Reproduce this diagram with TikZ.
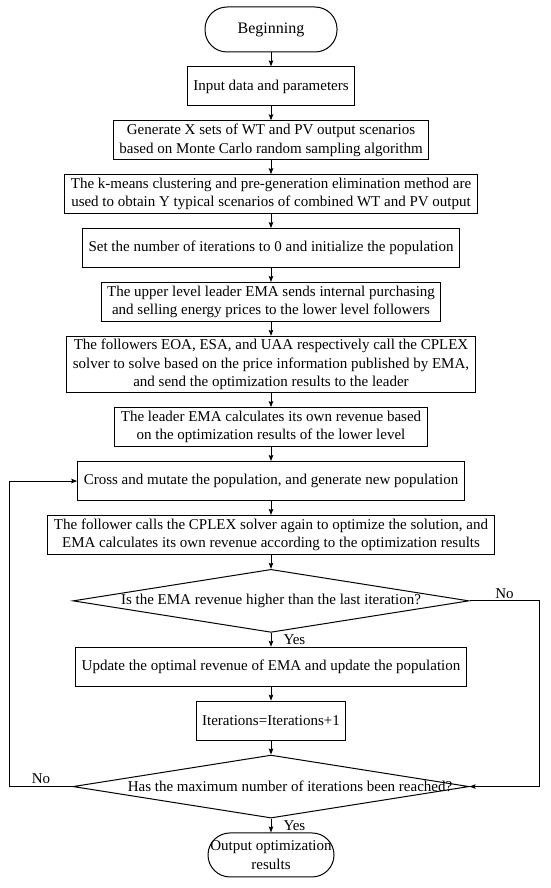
\documentclass[tikz,border=0pt]{standalone}
\usepackage{fontspec}
\setmainfont{Liberation Serif}
\usetikzlibrary{shapes.geometric, positioning, arrows.meta}

\begin{document}
\begin{tikzpicture}[x=1pt, y=1pt, ->, >={Stealth[length=6pt, width=4.5pt, inset=1pt]},
    line width=1pt, node distance=13.9pt,
    font=\fontsize{15}{18.3}\selectfont,
    box/.style={draw, rectangle, align=center, inner xsep=6pt, inner ysep=3pt, minimum height=39pt},
    term/.style={draw, rectangle, rounded corners=22pt, align=center, inner sep=0pt},
    decision/.style={draw, diamond, aspect=6.3, inner sep=0pt, minimum width=396pt, minimum height=63pt},
    lbl/.style={inner sep=2pt}]
  \useasboundingbox (0,0) rectangle (550,-888);

  % main chain
  \node[term, minimum width=132pt, minimum height=45pt, font=\fontsize{16}{19}\selectfont] (begin) at (271,-29.5) {Beginning};
  \node[box, below=of begin] (input) {Input data and parameters};
  \node[box, below=of input] (scen) {Generate X sets of WT and PV output scenarios\\based on Monte Carlo random sampling algorithm};
  \node[box, below=of scen] (cluster) {The k-means clustering and pre-generation elimination method are\\used to obtain Y typical scenarios of combined WT and PV output};
  \node[box, below=of cluster] (init) {Set the number of iterations to 0 and initialize the population};
  \node[box, below=of init] (price) {The upper level leader EMA sends internal purchasing\\and selling energy prices to the lower level followers};
  \node[box, below=of price] (follow) {The followers EOA, ESA, and UAA respectively call the CPLEX\\solver to solve based on the price information published by EMA,\\and send the optimization results to the leader};
  \node[box, below=of follow] (revenue) {The leader EMA calculates its own revenue based\\on the optimization results of the lower level};
  \node[box, below=of revenue] (cross) {Cross and mutate the population, and generate new population};
  \node[box, below=of cross] (resolve) {The follower calls the CPLEX solver again to optimize the solution, and\\EMA calculates its own revenue according to the optimization results};
  \node[decision, below=of resolve] (better) {Is the EMA revenue higher than the last iteration?};
  \node[box, below=of better] (update) {Update the optimal revenue of EMA and update the population};
  \node[box, below=of update] (count) {Iterations=Iterations+1};
  \node[decision, below=of count] (maxit) {\makebox[0pt]{\hspace*{38pt}Has the maximum number of iterations been reached?}};
  \node[term, minimum width=126pt, minimum height=44pt, below=of maxit] (output) {Output optimization\\results};

  % straight arrows
  \foreach \a/\b in {begin/input, input/scen, scen/cluster, cluster/init, init/price,
      price/follow, follow/revenue, revenue/cross, cross/resolve, resolve/better, update/count, count/maxit}
    \draw (\a) -- (\b);
  \draw (better) -- node[lbl, right, xshift=10pt] {Yes} (update);
  \draw (maxit) -- node[lbl, right, xshift=10pt] {Yes} (output);

  % feedback loops
  \draw (better.east) -- node[lbl, above] {No} ++(70,0) |- (maxit.east);
  \draw (maxit.west) -- node[lbl, above] {No} ++(-63,0) |- (cross.west);
\end{tikzpicture}
\end{document}
